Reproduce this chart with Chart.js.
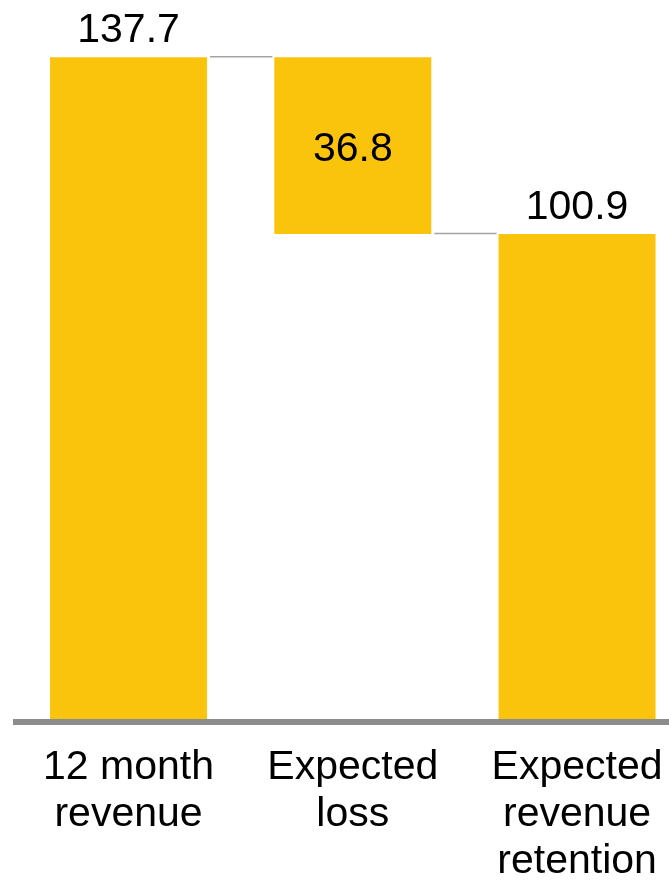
<!DOCTYPE html>
<html>
<head>
<meta charset="utf-8">
<script src="https://cdn.jsdelivr.net/npm/chart.js@4/dist/chart.umd.min.js"></script>
<style>
  html, body { margin: 0; padding: 0; background: #fff; overflow: hidden; }
  #wrap { width: 700px; height: 883px; }
</style>
</head>
<body>
<div id="wrap"><canvas id="waterfall-chart" width="700" height="883"></canvas></div>
<script>
// Waterfall: starting revenue, the expected loss, what is left
const categories = [
  ['12 month', 'revenue'],
  ['Expected', 'loss'],
  ['Expected', 'revenue', 'retention'],
];
const startValue = 137.7;
const lossValue = 36.8;
const endValue = 100.9;

const barColor = '#FBC40C';
const fontFamily = "'Liberation Sans', Arial, sans-serif";

// floating bars: [base, top]
const barRanges = [
  [0, startValue],
  [startValue - lossValue, startValue],
  [0, endValue],
];
const barLabels = [startValue, lossValue, endValue];

// value text above the totals, inside the loss bar
const valueLabels = {
  id: 'valueLabels',
  afterDatasetsDraw(chart) {
    const { ctx } = chart;
    const y = chart.scales.y;
    const bars = chart.getDatasetMeta(0).data;
    ctx.save();
    ctx.font = '41px ' + fontFamily;
    ctx.fillStyle = '#000';
    ctx.textAlign = 'center';
    bars.forEach((bar, i) => {
      const [lo, hi] = barRanges[i];
      const text = barLabels[i].toFixed(1);
      if (i === 1) {
        ctx.textBaseline = 'middle';
        ctx.fillText(text, bar.x, (y.getPixelForValue(lo) + y.getPixelForValue(hi)) / 2 + 4);
      } else {
        ctx.textBaseline = 'alphabetic';
        ctx.fillText(text, bar.x, y.getPixelForValue(hi) - 15);
      }
    });
    ctx.restore();
  },
};

// thin step lines joining the bars
const connectors = {
  id: 'connectors',
  afterDatasetsDraw(chart) {
    const { ctx } = chart;
    const y = chart.scales.y;
    const bars = chart.getDatasetMeta(0).data;
    const levels = [startValue, startValue - lossValue];
    ctx.save();
    ctx.strokeStyle = '#a3a3a3';
    ctx.lineWidth = 1.5;
    levels.forEach((level, i) => {
      const a = bars[i];
      const b = bars[i + 1];
      const py = y.getPixelForValue(level) - 0.5;
      ctx.beginPath();
      ctx.moveTo(a.x + a.width / 2 + 3, py);
      ctx.lineTo(b.x - b.width / 2 - 2, py);
      ctx.stroke();
    });
    ctx.restore();
  },
};

new Chart(document.getElementById('waterfall-chart'), {
  type: 'bar',
  data: {
    labels: categories,
    datasets: [
      {
        data: barRanges,
        backgroundColor: barColor,
        borderWidth: 0,
        barPercentage: 0.7,
        categoryPercentage: 1.0,
      },
    ],
  },
  options: {
    responsive: false,
    devicePixelRatio: 1,
    animation: false,
    layout: {
      padding: { left: 16.4, right: 10.8, top: 0, bottom: 0 },
    },
    plugins: {
      legend: { display: false },
      tooltip: { enabled: false },
    },
    scales: {
      x: {
        grid: { display: false, drawTicks: false },
        border: { display: true, color: '#8c8c8c', width: 6 },
        ticks: {
          color: '#000',
          padding: 22,
          maxRotation: 0,
          autoSkip: false,
          font: { family: fontFamily, size: 41, lineHeight: 1.15 },
        },
        afterFit(scale) {
          scale.height = 161;
        },
      },
      y: {
        display: false,
        min: -0.6,
        max: 149.6,
      },
    },
  },
  plugins: [connectors, valueLabels],
});
</script>
</body>
</html>
